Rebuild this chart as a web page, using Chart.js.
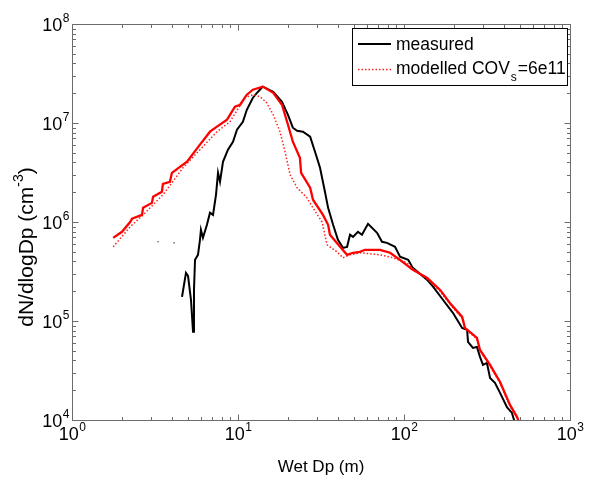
<!DOCTYPE html>
<html>
<head>
<meta charset="utf-8">
<script src="https://cdn.jsdelivr.net/npm/chart.js@4.4.1/dist/chart.umd.min.js"></script>
<style>
  body { margin: 0; background: #fff; }
</style>
</head>
<body>
<canvas id="sizeDist" width="598" height="480"></canvas>
<script>
// wet diameter (m) and dN/dlogDp (cm^-3)
var measuredDp = [4.60, 4.86, 5.00, 5.21, 5.36, 5.43, 5.51, 5.74, 5.90, 5.98, 6.15, 6.50, 6.78, 7.07, 7.37,
  7.58, 7.79, 8.12, 8.70, 9.33, 9.86, 10.7, 11.3, 12.3, 13.2, 14.1, 16.3, 18.4, 20.0, 21.4, 22.7, 24.6, 27.2,
  29.1, 31.2, 33.4, 34.9, 37.4, 40.0, 42.9, 45.4, 47.3, 49.3, 52.8, 55.8, 60.7, 68.8, 73.7, 79.0, 88.3, 94.6,
  106, 113, 138, 150, 172, 197, 224, 240, 243, 260, 275, 287, 299, 316, 330, 353, 379, 417, 447, 466];
var measuredN = [1.75e5, 3.06e5, 2.86e5, 1.63e5, 7.8e4, 2.06e5, 4.15e5, 4.66e5, 6.61e5, 8.34e5, 6.92e5, 9.37e5,
  1.24e6, 1.18e6, 1.88e6, 3.14e6, 2.55e6, 4.06e6, 5.37e6, 6.47e6, 8.55e6, 1.03e7, 1.36e7, 1.80e7, 2.07e7,
  2.33e7, 2.07e7, 1.64e7, 1.21e7, 8.96e6, 8.36e6, 8.17e6, 7.27e6, 5.13e6, 3.53e6, 2.02e6, 1.39e6, 9.37e5,
  6.61e5, 5.48e5, 5.61e5, 7.43e5, 7.08e5, 7.96e5, 7.43e5, 9.59e5, 7.78e5, 6.31e5, 6.16e5, 5.61e5, 4.45e5,
  4.15e5, 3.44e5, 2.60e5, 2.21e5, 1.63e5, 1.21e5, 8.51e4, 8.13e4, 6.15e4, 5.35e4, 5.47e4, 4.34e4, 3.6e4,
  3.77e4, 2.66e4, 2.37e4, 1.88e4, 1.35e4, 1.18e4, 9.3e3];
// two isolated measured points left of the main curve
var strayDp = [3.30, 4.12];
var strayN = [6.31e5, 6.16e5];

// thick red line
var modelDp = [1.77, 2.00, 2.24, 2.30, 2.64, 2.68, 3.03, 3.08, 3.48, 3.53, 3.89, 4.00, 4.47, 4.93, 5.90, 6.78,
  7.47, 8.59, 9.59, 10.3, 11.3, 12.3, 14.1, 16.3, 18.4, 20.0, 21.4, 23.6, 24.0, 27.2, 28.3, 32.5, 34.9, 35.8,
  41.2, 45.4, 49.3, 54.3, 58.2, 71.7, 82.4, 94.6, 113, 138, 165, 189, 224, 233, 275, 287, 330, 379, 435, 480, 500];
var modelN = [6.92e5, 7.96e5, 1.00e6, 1.08e6, 1.18e6, 1.39e6, 1.56e6, 1.80e6, 2.02e6, 2.43e6, 2.55e6, 3.14e6,
  3.61e6, 4.06e6, 6.04e6, 8.17e6, 9.18e6, 1.08e7, 1.46e7, 1.53e7, 1.93e7, 2.17e7, 2.33e7, 2.02e7, 1.53e7,
  9.61e6, 6.47e6, 4.46e6, 3.14e6, 2.22e6, 1.68e6, 1.18e6, 9.37e5, 7.43e5, 5.61e5, 4.66e5, 4.89e5, 5.0e5,
  5.24e5, 5.24e5, 4.89e5, 4.15e5, 3.29e5, 2.73e5, 2.06e5, 1.52e5, 1.10e5, 8.51e4, 6.75e4, 5.1e4, 3.6e4,
  2.42e4, 1.42e4, 1.07e4, 8.9e3];

// dotted red line, modelled COVs=6e11
var covDp = [1.77, 2.24, 2.68, 3.08, 3.53, 4.00, 4.66, 5.90, 7.47, 8.95, 11.0, 12.3, 13.6, 14.9, 16.3, 17.9,
  19.2, 20.6, 22.7, 26.0, 28.3, 32.1, 34.4, 39.5, 42.9, 47.3, 54.3, 71.7, 85.9, 104, 120, 138, 165, 189, 224,
  233, 275, 287, 330, 379, 435, 480, 500];
var covN = [5.61e5, 8.94e5, 1.18e6, 1.49e6, 1.88e6, 2.49e6, 3.53e6, 5.37e6, 8.17e6, 1.03e7, 1.80e7, 1.93e7,
  1.84e7, 1.60e7, 1.21e7, 8.17e6, 5.13e6, 3.0e6, 2.22e6, 1.76e6, 1.39e6, 1.0e6, 5.88e5, 5.0e5, 4.35e5, 4.66e5,
  4.89e5, 4.66e5, 4.35e5, 3.87e5, 3.1e5, 2.65e5, 2.0e5, 1.48e5, 1.07e5, 8.3e4, 6.6e4, 5.0e4, 3.5e4, 2.36e4,
  1.38e4, 1.05e4, 8.7e3];

var xDecades = [0, 1, 2, 3];
var yDecades = [4, 5, 6, 7, 8];

var FONT = '"Liberation Sans", Arial, sans-serif';

function pts(xs, ys) {
  return xs.map(function (v, i) { return { x: v, y: ys[i] }; });
}

// "10" with a raised exponent
function powerLabel(ctx, exp, x, y, align) {
  ctx.font = '18px ' + FONT;
  var wb = ctx.measureText('10').width;
  ctx.font = '12px ' + FONT;
  var we = ctx.measureText(String(exp)).width;
  var left = align === 'center' ? x - (wb + we) / 2 : x - wb - we;
  ctx.textAlign = 'left';
  ctx.textBaseline = 'alphabetic';
  ctx.font = '18px ' + FONT;
  ctx.fillText('10', left, y);
  ctx.font = '12px ' + FONT;
  ctx.fillText(String(exp), left + wb + 0.5, y - 9);
}

var axesPlugin = {
  id: 'matlabAxes',
  afterDatasetsDraw: function (chart) {
    var ctx = chart.ctx, a = chart.chartArea, xs = chart.scales.x, ys = chart.scales.y;
    ctx.save();
    ctx.strokeStyle = '#6b6b6b';
    ctx.lineWidth = 1;
    ctx.beginPath();
    var l = Math.round(a.left) + 0.5, r = Math.round(a.right) + 0.5;
    var t = Math.round(a.top) + 0.5, b = Math.round(a.bottom) + 0.5;
    ctx.rect(l, t, r - l, b - t);

    // ticks on all four sides, pointing inward
    xDecades.forEach(function (d) {
      for (var m = 1; m <= 9; m++) {
        var v = m * Math.pow(10, d);
        if (v > 1000) break;
        var px = Math.round(xs.getPixelForValue(v)) + 0.5;
        var len = m === 1 ? 6 : 3.5;
        ctx.moveTo(px, b); ctx.lineTo(px, b - len);
        ctx.moveTo(px, t); ctx.lineTo(px, t + len);
      }
    });
    yDecades.forEach(function (d) {
      for (var m = 1; m <= 9; m++) {
        var v = m * Math.pow(10, d);
        if (v > 1e8) break;
        var py = Math.round(ys.getPixelForValue(v)) + 0.5;
        var len = m === 1 ? 6 : 3.5;
        ctx.moveTo(l, py); ctx.lineTo(l + len, py);
        ctx.moveTo(r, py); ctx.lineTo(r - len, py);
      }
    });
    ctx.stroke();

    // tick labels
    ctx.fillStyle = '#000';
    xDecades.forEach(function (d) {
      powerLabel(ctx, d, xs.getPixelForValue(Math.pow(10, d)), 440, 'center');
    });
    yDecades.forEach(function (d) {
      powerLabel(ctx, d, 69, ys.getPixelForValue(Math.pow(10, d)) + 6.5, 'right');
    });

    // axis titles
    ctx.font = '17px ' + FONT;
    ctx.textAlign = 'center';
    ctx.fillText('Wet Dp (m)', (a.left + a.right) / 2, 472);

    ctx.save();
    ctx.translate(32.5, 247);
    ctx.rotate(-Math.PI / 2);
    ctx.textAlign = 'left';
    ctx.font = '21px ' + FONT;
    var s1 = 'dN/dlogDp (cm', s3 = ')';
    var w1 = ctx.measureText(s1).width, w3 = ctx.measureText(s3).width;
    ctx.font = '14px ' + FONT;
    var w2 = ctx.measureText('-3').width;
    var x0 = -(w1 + w2 + w3) / 2;
    ctx.font = '21px ' + FONT;
    ctx.fillText(s1, x0, 0);
    ctx.fillText(s3, x0 + w1 + w2, 0);
    ctx.font = '14px ' + FONT;
    ctx.fillText('-3', x0 + w1, -10);
    ctx.restore();

    // legend box
    ctx.fillStyle = '#fff';
    ctx.fillRect(352, 28, 216, 58);
    ctx.strokeStyle = '#000';
    ctx.strokeRect(352.5, 28.5, 215, 57);

    ctx.lineWidth = 2;
    ctx.beginPath();
    ctx.moveTo(358, 44); ctx.lineTo(391, 44);
    ctx.stroke();

    ctx.lineWidth = 1.5;
    ctx.strokeStyle = '#ff2020';
    ctx.setLineDash([1.5, 2]);
    ctx.beginPath();
    ctx.moveTo(358, 69.5); ctx.lineTo(391, 69.5);
    ctx.stroke();
    ctx.setLineDash([]);

    ctx.fillStyle = '#000';
    ctx.textAlign = 'left';
    ctx.font = '17.5px ' + FONT;
    ctx.fillText('measured', 396, 50);
    var m1 = 'modelled COV';
    ctx.fillText(m1, 396, 74);
    var wm = ctx.measureText(m1).width;
    ctx.font = '12px ' + FONT;
    ctx.fillText('s', 396 + wm + 1, 81);
    var ws = ctx.measureText('s').width;
    ctx.font = '17.5px ' + FONT;
    ctx.fillText('=6e11', 396 + wm + ws + 2, 74);
    ctx.restore();
  }
};

new Chart(document.getElementById('sizeDist'), {
  type: 'line',
  data: {
    datasets: [
      {
        label: 'modelled',
        data: pts(modelDp, modelN),
        borderColor: '#ff0000',
        borderWidth: 2.3,
        order: 0
      },
      {
        label: 'modelled COVs=6e11',
        data: pts(covDp, covN),
        borderColor: '#ff2020',
        borderWidth: 1.5,
        borderDash: [1.5, 2],
        order: 1
      },
      {
        label: 'measured',
        data: pts(measuredDp, measuredN),
        borderColor: '#000000',
        borderWidth: 2,
        order: 2
      },
      {
        label: 'measured (isolated)',
        data: pts(strayDp, strayN),
        showLine: false,
        pointRadius: 0.8,
        pointBorderWidth: 0,
        pointBackgroundColor: '#555',
        order: 3
      }
    ]
  },
  options: {
    responsive: false,
    animation: false,
    layout: { padding: { top: 24, right: 28, left: 0, bottom: 0 } },
    elements: { point: { radius: 0 }, line: { tension: 0 } },
    plugins: { legend: { display: false }, tooltip: { enabled: false } },
    scales: {
      x: {
        type: 'logarithmic', min: 1, max: 1000,
        grid: { display: false }, border: { display: false },
        ticks: { display: false },
        afterFit: function (s) { s.height = 60; }
      },
      y: {
        type: 'logarithmic', min: 1e4, max: 1e8,
        grid: { display: false }, border: { display: false },
        ticks: { display: false },
        afterFit: function (s) { s.width = 72; }
      }
    }
  },
  plugins: [axesPlugin]
});
</script>
</body>
</html>
